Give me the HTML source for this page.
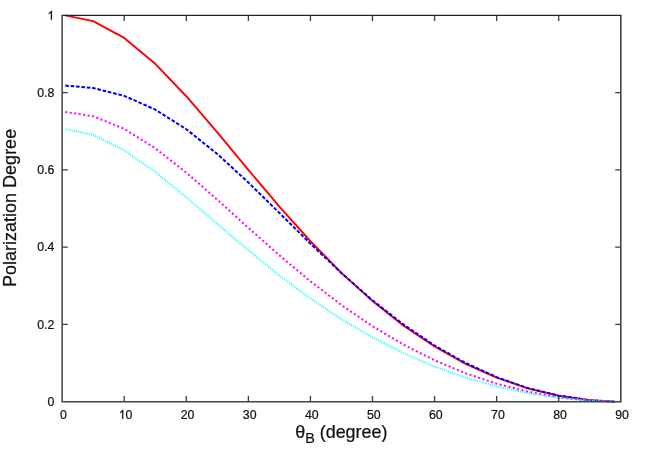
<!DOCTYPE html>
<html><head><meta charset="utf-8"><title>Polarization Degree</title>
<style>
html,body{margin:0;padding:0;background:#fff;}
body{width:650px;height:455px;overflow:hidden;}
svg{display:block;will-change:transform;}
text{font-family:"Liberation Sans",sans-serif;fill:#111;stroke:#111;stroke-width:0.22px;}
</style></head>
<body>
<svg width="650" height="455" viewBox="0 0 650 455">
<rect width="650" height="455" fill="#fff"/>
<g fill="none" stroke-linejoin="round" stroke-linecap="butt">
<path d="M65.25,15.36 L93.19,21.13 L124.22,37.92 L155.26,63.82 L186.29,96.23 L217.33,132.41 L248.37,169.86 L279.40,206.61 L310.44,241.25 L341.47,272.90 L372.51,301.09 L403.55,325.63 L434.58,346.50 L465.62,363.81 L496.66,377.70 L527.69,388.31 L558.73,395.79 L589.76,400.23 L614.59,401.64" stroke="#ff0000" stroke-width="1.9"/>
<path d="M65.25,85.58 L93.19,88.02 L124.22,95.85 L155.26,109.58 L186.29,129.22 L217.33,154.00 L248.37,182.50 L279.40,212.97 L310.44,243.66 L341.47,273.13 L372.51,300.32 L403.55,324.55 L434.58,345.50 L465.62,363.03 L496.66,377.17 L527.69,388.01 L558.73,395.65 L589.76,400.19 L614.59,401.64" stroke="#0000ff" stroke-width="2" stroke-dasharray="3.6 1.8"/>
<path d="M65.25,111.94 L93.19,116.27 L124.22,128.87 L155.26,148.29 L186.29,172.60 L217.33,199.73 L248.37,227.82 L279.40,255.38 L310.44,281.36 L341.47,305.10 L372.51,326.24 L403.55,344.64 L434.58,360.30 L465.62,373.28 L496.66,383.70 L527.69,391.66 L558.73,397.26 L589.76,400.60 L614.59,401.66" stroke="#ff00ff" stroke-width="2" stroke-dasharray="2 2.52"/>
<path d="M65.25,129.01 L93.19,134.88 L124.22,150.25 L155.26,171.93 L186.29,197.20 L217.33,223.86 L248.37,250.29 L279.40,275.38 L310.44,298.47 L341.47,319.22 L372.51,337.47 L403.55,353.24 L434.58,366.58 L465.62,377.61 L496.66,386.45 L527.69,393.19 L558.73,397.94 L589.76,400.76 L614.59,401.66" stroke="#00ffff" stroke-width="1.8" stroke-dasharray="1 1.2"/>
</g>
<g fill="none" stroke="#3c3c3c" stroke-width="1.3" stroke-linejoin="round">
<path d="M61.55,15.3 H621.4" stroke="#222" stroke-width="1.25"/>
<path d="M61.449999999999996,401.75 H621.5" stroke="#444" stroke-width="1.6"/>
<path d="M62.15,15.3 V401.7" stroke="#505050" stroke-width="1.6"/>
<path d="M620.8,15.3 V401.7" stroke="#383838" stroke-width="1.5"/>
<path d="M124.22,401.7 V396.09999999999997 M124.22,15.3 V20.9"/><path d="M186.29,401.7 V396.09999999999997 M186.29,15.3 V20.9"/><path d="M248.37,401.7 V396.09999999999997 M248.37,15.3 V20.9"/><path d="M310.44,401.7 V396.09999999999997 M310.44,15.3 V20.9"/><path d="M372.51,401.7 V396.09999999999997 M372.51,15.3 V20.9"/><path d="M434.58,401.7 V396.09999999999997 M434.58,15.3 V20.9"/><path d="M496.66,401.7 V396.09999999999997 M496.66,15.3 V20.9"/><path d="M558.73,401.7 V396.09999999999997 M558.73,15.3 V20.9"/><path d="M62.15,324.42 H67.75 M620.8,324.42 H615.1999999999999"/><path d="M62.15,247.14 H67.75 M620.8,247.14 H615.1999999999999"/><path d="M62.15,169.86 H67.75 M620.8,169.86 H615.1999999999999"/><path d="M62.15,92.58 H67.75 M620.8,92.58 H615.1999999999999"/>
</g>
<g font-size="12.3px"><text x="63.45" y="418.7" text-anchor="middle">0</text><path d="M763,0H583V1147Q518,1085 412.5,1023Q307,961 223,930V1104Q374,1175 487,1276Q600,1377 647,1472H763Z" transform="translate(118.68,418.70) scale(0.006006,-0.006006)" fill="#111" stroke="#111" stroke-width="36"/><text x="125.52" y="418.7" text-anchor="start">0</text><text x="187.59" y="418.7" text-anchor="middle">20</text><text x="249.67" y="418.7" text-anchor="middle">30</text><text x="311.74" y="418.7" text-anchor="middle">40</text><text x="373.81" y="418.7" text-anchor="middle">50</text><text x="435.88" y="418.7" text-anchor="middle">60</text><text x="497.96" y="418.7" text-anchor="middle">70</text><text x="560.03" y="418.7" text-anchor="middle">80</text><text x="622.10" y="418.7" text-anchor="middle">90</text><text x="54.4" y="406.05" text-anchor="end">0</text><text x="54.4" y="328.77" text-anchor="end">0.2</text><text x="54.4" y="251.49" text-anchor="end">0.4</text><text x="54.4" y="174.21" text-anchor="end">0.6</text><text x="54.4" y="96.93" text-anchor="end">0.8</text><path d="M763,0H583V1147Q518,1085 412.5,1023Q307,961 223,930V1104Q374,1175 487,1276Q600,1377 647,1472H763Z" transform="translate(47.36,19.65) scale(0.006006,-0.006006)" fill="#111" stroke="#111" stroke-width="36"/></g>
<text font-size="17.9px" x="341.3" y="437.7" text-anchor="middle">θ<tspan font-size="14.4px" dy="5.1">B</tspan><tspan dy="-5.1"> (degree)</tspan></text>
<text font-size="18px" transform="translate(16.2,207.9) rotate(-90)" text-anchor="middle">Polarization Degree</text>
</svg>
</body></html>
